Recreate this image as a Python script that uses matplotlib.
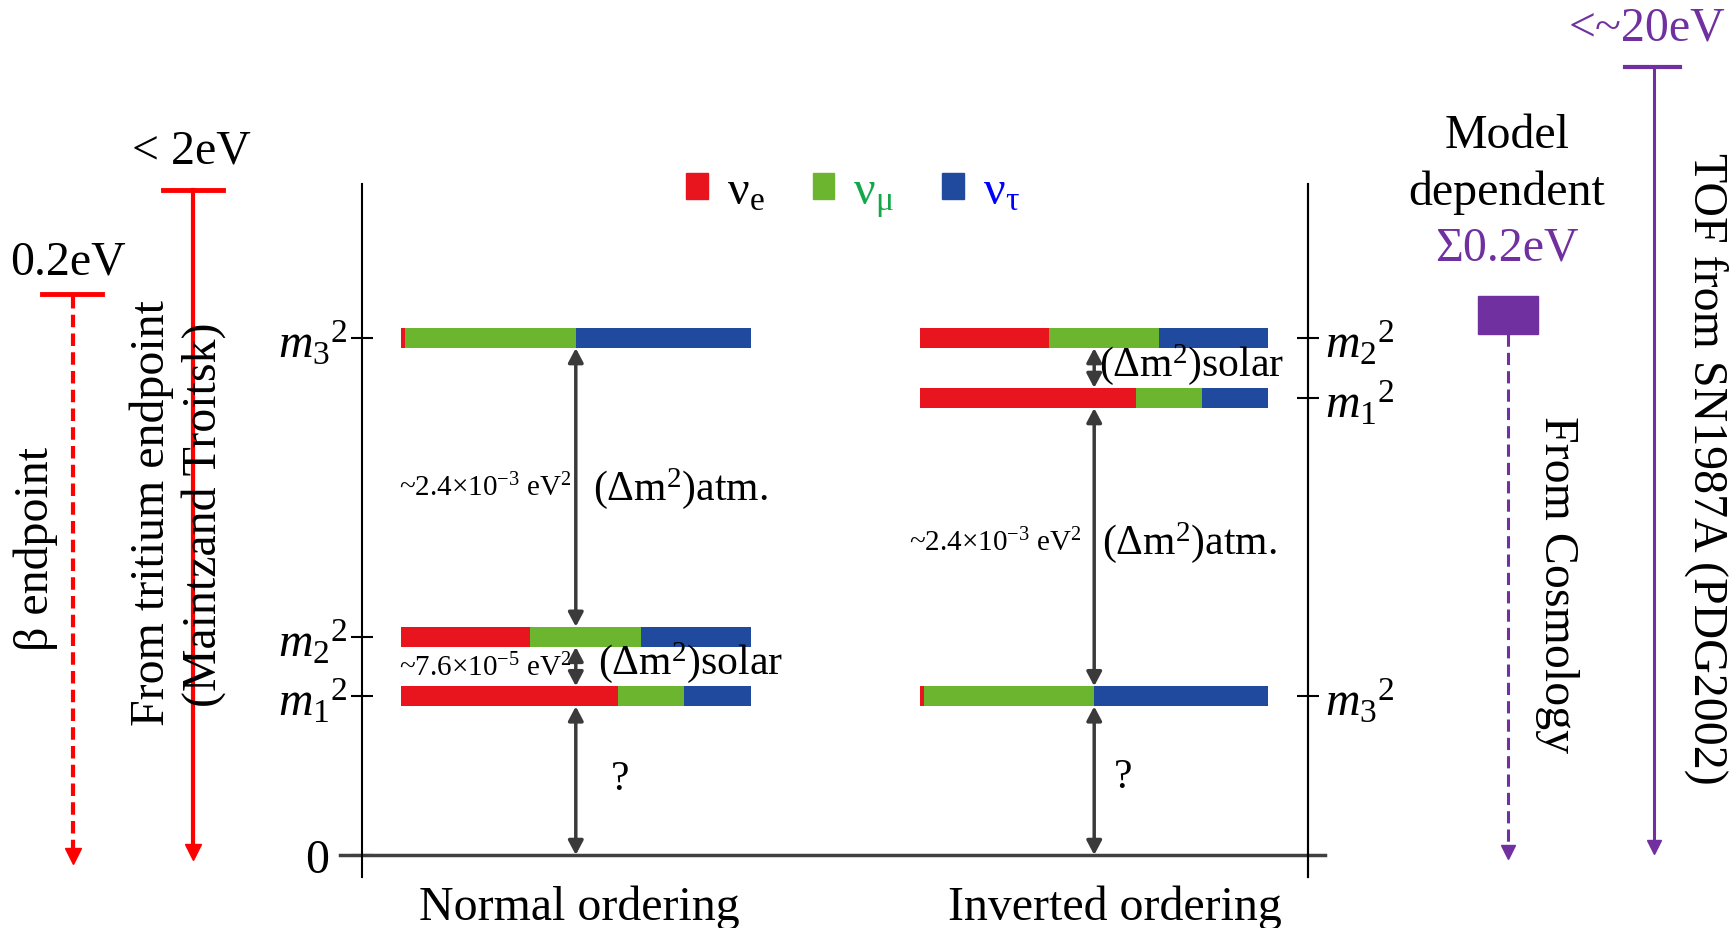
import matplotlib.pyplot as plt
from matplotlib.patches import Patch, Rectangle
from matplotlib.transforms import ScaledTranslation

plt.rcParams['font.family'] = ['Liberation Serif', 'DejaVu Serif']
plt.rcParams['mathtext.fontset'] = 'custom'
plt.rcParams['mathtext.rm'] = 'Liberation Serif'
plt.rcParams['mathtext.it'] = 'Liberation Serif:italic'

# schematic squared-mass levels, m3^2 of normal ordering = 1
normal_levels = [0.307, 0.422, 1.0]      # m1^2, m2^2, m3^2
inverted_levels = [0.884, 1.0, 0.307]    # m1^2, m2^2, m3^2
level_names = ['$m_1{}^2$', '$m_2{}^2$', '$m_3{}^2$']

# flavour content of the mass states (nu_e, nu_mu, nu_tau)
flavour_m1 = [0.62, 0.19, 0.19]
flavour_m2 = [0.37, 0.315, 0.315]
flavour_m3 = [0.012, 0.488, 0.50]
flavour_labels = ['ν$_{\\mathrm{e}}$', 'ν$_{\\mathrm{μ}}$', 'ν$_{\\mathrm{τ}}$']
flavour_colors = ['#E8141E', '#6CB62F', '#1F4A9E']
flavour_text_colors = ['black', '#12A84A', '#0000FF']

orderings = ['Normal ordering', 'Inverted ordering']
atm_text = '~2.4×10$^{-3}$ eV$^2$'
solar_text = '~7.6×10$^{-5}$ eV$^2$'

W, H = 1731, 929
fig = plt.figure(figsize=(W / 100, H / 100), dpi=100)

# main level diagram
ax = fig.add_axes([362 / W, 51 / H, 946 / W, 693 / H])
ax.set_facecolor('none')
ax.set_xlim(0, 1)
ax.set_ylim(-0.0426, 1.298)
for s in ['top', 'bottom']:
    ax.spines[s].set_visible(False)
for s in ['left', 'right']:
    ax.spines[s].set_linewidth(1.5)

bar_h = 0.039
cols = [(0.041, 0.370), (0.590, 0.368)]
arrow_col = '#3a3a3a'
big = 34.5
mid = 30
small = 21


def draw_levels(levels, x0, width):
    for lev, frac in zip(levels, [flavour_m1, flavour_m2, flavour_m3]):
        left = x0
        for f, c in zip(frac, flavour_colors):
            ax.barh(lev, f * width, left=left, height=bar_h, color=c)
            left += f * width


def arrow(x, y1, y2):
    ax.annotate('', xy=(x, y2), xytext=(x, y1),
                arrowprops=dict(arrowstyle='<|-|>,head_length=0.85,head_width=0.45',
                                color=arrow_col, lw=2.5, shrinkA=0, shrinkB=0,
                                mutation_scale=10))


draw_levels(normal_levels, *cols[0])
draw_levels(inverted_levels, *cols[1])

xn = cols[0][0] + cols[0][1] / 2
xi = cols[1][0] + cols[1][1] / 2
n1, n2, n3 = normal_levels
i1, i2, i3 = inverted_levels
h = bar_h / 2
arrow(xn, 0, n1 - h)
arrow(xn, n1 + h, n2 - h)
arrow(xn, n2 + h, n3 - h)
arrow(xi, 0, i3 - h)
arrow(xi, i3 + h, i1 - h)
arrow(xi, i1 + h, i2 - h)

ax.axhline(0, xmin=-0.023, xmax=1.018, color='#404040', lw=2.5, clip_on=False)

# annotations of the splittings
ax.text(xn - 0.004, (n2 + n3) / 2, atm_text, fontsize=small, ha='right', va='center')
ax.text(xn + 0.018, (n2 + n3) / 2, '(Δm$^2$)atm.', fontsize=mid, ha='left', va='center')
ax.text(xn - 0.004, n1 + 0.057, solar_text, fontsize=small, ha='right', va='center')
ax.text(xn + 0.023, n1 + 0.068, '(Δm$^2$)solar', fontsize=mid, ha='left', va='center')
ax.text(xn + 0.047, 0.147, '?', fontsize=mid, ha='center', va='center')
ax.text(xi + 0.005, (i1 + i2) / 2 + 0.008, '(Δm$^2$)solar', fontsize=mid, ha='left', va='center')
ax.text(xi - 0.013, (i1 + i3) / 2 + 0.01, atm_text, fontsize=small, ha='right', va='center')
ax.text(xi + 0.008, (i1 + i3) / 2 + 0.01, '(Δm$^2$)atm.', fontsize=mid, ha='left', va='center')
ax.text(xi + 0.031, 0.151, '?', fontsize=mid, ha='center', va='center')

for x, name in zip([0.230, 0.796], orderings):
    ax.text(x, -0.124, name, fontsize=big, ha='center', va='baseline', clip_on=False)

# level labels on both sides
ax.set_xticks([])
ax.set_yticks([0] + normal_levels)
ax.set_yticklabels(['0'] + level_names, fontsize=big)
ax.tick_params(axis='y', direction='inout', length=16, width=1.5, pad=2)
zero_lab = ax.yaxis.get_major_ticks()[0].label1
zero_lab.set_transform(zero_lab.get_transform() +
                       ScaledTranslation(-14 / 72, 0, fig.dpi_scale_trans))

ax2 = ax.twinx()
ax2.set_ylim(ax.get_ylim())
for s in ['top', 'bottom', 'left']:
    ax2.spines[s].set_visible(False)
ax2.spines['right'].set_linewidth(1.5)
ax2.set_yticks(inverted_levels)
ax2.set_yticklabels(level_names, fontsize=big)
ax2.tick_params(axis='y', direction='inout', length=16, width=1.5, pad=4)

handles = [Patch(color=c) for c in flavour_colors]
leg = fig.legend(handles, flavour_labels, loc='center', ncol=3, frameon=False,
                 bbox_to_anchor=(853 / W, 1 - 195 / H), fontsize=big,
                 handlelength=0.45, handleheight=0.45, handletextpad=0.4,
                 columnspacing=1.0)
for t, c in zip(leg.get_texts(), flavour_text_colors):
    t.set_color(c)

# experimental limits drawn around the diagram (pixel overlay)
ov = fig.add_axes([0, 0, 1, 1])
ov.set_facecolor('none')
ov.set_xlim(0, W)
ov.set_ylim(H, 0)
ov.axis('off')

red = '#FF0000'
purple = '#7030A0'

ov.plot([73, 73], [297, 852], color=red, lw=3, ls=(0, (3, 1.5)))
ov.plot([73], [857], marker='v', ms=11, color=red)
ov.plot([42, 102], [295, 295], color=red, lw=3.5)
ov.text(68, 262, '0.2eV', fontsize=big, ha='center', va='center')
ov.text(36, 549, 'β endpoint', fontsize=big, rotation=90, ha='center', va='center')

ov.plot([193, 193], [191, 850], color=red, lw=3)
ov.plot([193], [853], marker='v', ms=11, color=red)
ov.plot([163, 223], [191, 191], color=red, lw=3.5)
ov.text(191, 151, '< 2eV', fontsize=big, ha='center', va='center')
ov.text(152, 513, 'From tritium endpoint', fontsize=big, rotation=90, ha='center', va='center')
ov.text(204, 515, '(Maintzand Troitsk)', fontsize=big, rotation=90, ha='center', va='center')

ov.add_patch(Rectangle((1478, 297), 60, 38, color=purple))
ov.plot([1508, 1508], [335, 850], color=purple, lw=2.2, ls=(0, (4, 2)))
ov.plot([1508], [853], marker='v', ms=10, color=purple)
ov.text(1507, 136, 'Model', fontsize=big, ha='center', va='center')
ov.text(1507, 193, 'dependent', fontsize=big, ha='center', va='center')
ov.text(1507, 248, 'Σ0.2eV', fontsize=big, ha='center', va='center', color=purple)
ov.text(1557, 585, 'From Cosmology', fontsize=big, rotation=270, ha='center', va='center')

ov.plot([1654, 1654], [68, 845], color=purple, lw=2.2)
ov.plot([1654], [848], marker='v', ms=10, color=purple)
ov.plot([1625, 1680], [68, 68], color=purple, lw=3)
ov.text(1647, 28, '<~20eV', fontsize=big, ha='center', va='center', color=purple)
ov.text(1706, 469, 'TOF from SN1987A (PDG2002)', fontsize=big, rotation=270,
        ha='center', va='center')

fig.savefig('out.png', dpi=100)
